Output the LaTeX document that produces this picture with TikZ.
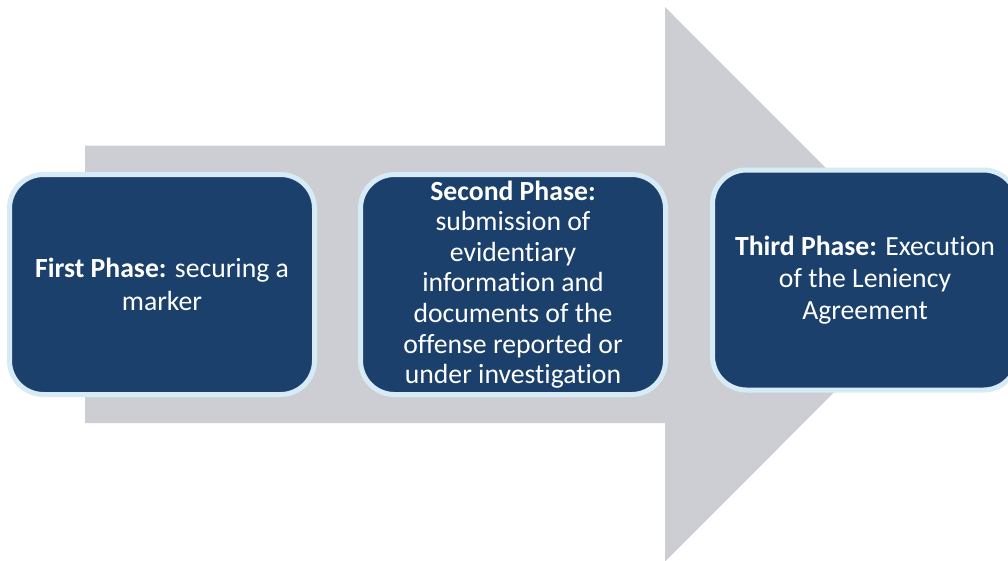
\documentclass[tikz,border=0pt]{standalone}
\usepackage{fontspec}
\setmainfont{Carlito}[Ligatures={NoCommon}, RawFeature={-liga;-clig}]
\definecolor{navy}{HTML}{1B406C}
\definecolor{edgeblue}{HTML}{D6EBF6}
\definecolor{arrowgray}{HTML}{CDCED3}
\begin{document}
\begin{tikzpicture}[x=1pt,y=-1pt,
  phase/.style={draw=edgeblue, line width=5pt, fill=navy, rounded corners=34pt,
    minimum width=305pt, minimum height=220pt, inner sep=0pt, text=white, align=center}]
\useasboundingbox (0,0) rectangle (1008,560);
\fill[arrowgray] (85,145.7) -- (665,145.7) -- (665,7) -- (942,284.3) -- (665,561.6)
  -- (665,423) -- (85,423) -- cycle;
\node[phase, font=\fontsize{27.7}{33}\selectfont] (p1) at (162,284.5)
  {\textbf{First Phase:} securing a\\marker};
\node[phase, font=\fontsize{27.7}{30.6}\selectfont] (p2) at (513,284.5)
  {\textbf{Second Phase:}\\submission of\\evidentiary\\information and\\documents of the\\offense reported or\\under investigation};
\node[phase, font=\fontsize{27.7}{31.7}\selectfont] (p3) at (865,280)
  {\textbf{Third Phase:} Execution\\of the Leniency\\Agreement};
\end{tikzpicture}
\end{document}
